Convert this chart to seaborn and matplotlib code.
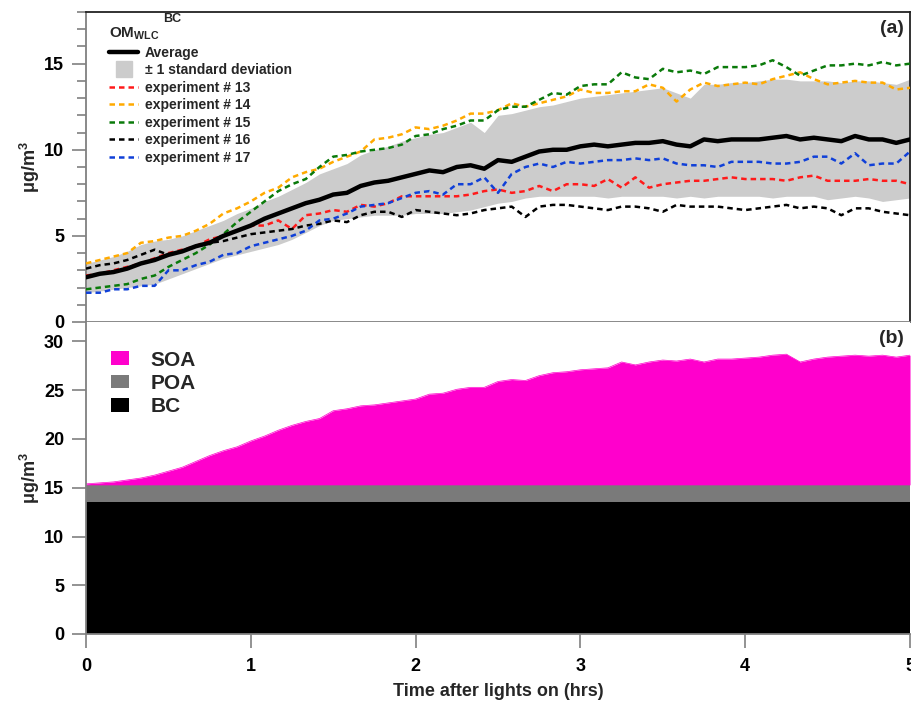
import numpy as np
import pandas as pd
import matplotlib
matplotlib.use("Agg")
import matplotlib.pyplot as plt
from matplotlib.lines import Line2D
from matplotlib.patches import Patch
from matplotlib.ticker import MultipleLocator
import seaborn as sns

# ---------------- data ----------------
time_hrs = [i / 12 for i in range(61)]

average = [2.6, 2.8, 2.9, 3.1, 3.4, 3.6, 3.9, 4.1, 4.4, 4.6, 5.0, 5.3, 5.6, 6.0, 6.3, 6.6,
           6.9, 7.1, 7.4, 7.5, 7.9, 8.1, 8.2, 8.4, 8.6, 8.8, 8.7, 9.0, 9.1, 8.9, 9.4, 9.3,
           9.6, 9.9, 10.0, 10.0, 10.2, 10.3, 10.2, 10.3, 10.4, 10.4, 10.5, 10.3, 10.2, 10.6,
           10.5, 10.6, 10.6, 10.6, 10.7, 10.8, 10.6, 10.7, 10.6, 10.5, 10.8, 10.6, 10.6, 10.4, 10.6]
std_upper = [3.4, 3.6, 3.8, 4.1, 4.5, 4.7, 4.8, 5.0, 5.3, 5.6, 5.9, 6.3, 6.6, 7.0, 7.3, 7.7,
             8.1, 8.6, 8.9, 9.2, 9.7, 10.0, 10.2, 10.5, 10.7, 10.9, 11.0, 11.3, 11.6, 11.0, 12.0,
             12.1, 12.3, 12.5, 12.6, 12.8, 13.0, 13.1, 13.2, 13.3, 13.4, 13.5, 13.6, 13.3, 13.0,
             13.8, 13.8, 13.9, 13.9, 14.0, 14.1, 14.1, 14.0, 14.0, 14.0, 13.9, 14.0, 14.0, 13.9, 13.8, 14.1]
std_lower = [1.7, 1.8, 1.9, 2.0, 2.1, 2.2, 2.5, 2.8, 3.1, 3.4, 3.7, 3.9, 4.1, 4.3, 4.5, 4.8,
             5.2, 5.6, 5.9, 6.0, 6.1, 6.2, 6.2, 6.2, 6.3, 6.3, 6.3, 6.4, 6.5, 6.7, 6.9, 7.0,
             7.2, 7.3, 7.3, 7.3, 7.3, 7.3, 7.2, 7.3, 7.3, 7.3, 7.3, 7.2, 7.3, 7.2, 7.3, 7.3,
             7.3, 7.3, 7.2, 7.3, 7.3, 7.3, 7.1, 7.2, 7.3, 7.2, 7.0, 7.1, 7.2]
exp13 = [2.7, 2.8, 3.0, 3.2, 3.4, 3.7, 4.0, 4.2, 4.4, 4.8, 5.0, 5.3, 5.6, 5.6, 5.9, 5.4,
         6.2, 6.3, 6.5, 6.4, 6.8, 6.7, 6.9, 7.3, 7.3, 7.3, 7.3, 7.3, 7.4, 7.6, 7.7, 7.5,
         7.6, 7.9, 7.6, 8.0, 8.0, 7.9, 8.3, 7.8, 8.4, 7.8, 8.0, 8.1, 8.2, 8.2, 8.3, 8.4,
         8.3, 8.3, 8.3, 8.2, 8.4, 8.5, 8.2, 8.2, 8.2, 8.3, 8.2, 8.2, 8.0]
exp14 = [3.4, 3.6, 3.8, 4.0, 4.6, 4.7, 4.9, 5.0, 5.3, 5.7, 6.3, 6.6, 7.0, 7.5, 7.8, 8.4,
         8.7, 8.9, 9.3, 9.6, 9.9, 10.6, 10.7, 10.9, 11.3, 11.2, 11.4, 11.7, 12.1, 12.1, 12.3,
         12.7, 12.5, 12.7, 12.9, 13.1, 13.5, 13.3, 13.3, 13.4, 13.4, 13.8, 13.6, 12.8, 13.5,
         13.9, 13.7, 13.8, 13.9, 13.8, 14.1, 14.3, 14.5, 14.1, 13.8, 13.9, 14.0, 13.9, 13.9, 13.5, 13.6]
exp15 = [1.9, 2.0, 2.1, 2.2, 2.5, 2.7, 3.2, 3.6, 4.0, 4.5, 5.1, 5.8, 6.4, 7.0, 7.6, 8.0,
         8.3, 9.0, 9.6, 9.7, 9.9, 10.0, 10.1, 10.3, 10.8, 10.9, 11.2, 11.4, 11.7, 11.7, 12.3,
         12.5, 12.5, 12.9, 13.3, 13.2, 13.7, 13.8, 13.8, 14.5, 14.2, 14.1, 14.7, 14.5, 14.6,
         14.4, 14.8, 14.8, 14.8, 14.9, 15.2, 14.8, 14.3, 14.6, 14.9, 14.9, 15.0, 14.9, 15.1, 14.9, 15.0]
exp16 = [3.1, 3.3, 3.4, 3.6, 3.9, 4.2, 3.9, 4.1, 4.4, 4.6, 4.7, 4.9, 5.1, 5.2, 5.3, 5.4,
         5.6, 5.7, 5.9, 5.8, 6.2, 6.4, 6.4, 6.1, 6.5, 6.4, 6.3, 6.2, 6.3, 6.5, 6.6, 6.7,
         6.1, 6.7, 6.8, 6.8, 6.7, 6.6, 6.5, 6.7, 6.7, 6.6, 6.4, 6.8, 6.7, 6.7, 6.7, 6.6,
         6.5, 6.6, 6.7, 6.8, 6.6, 6.7, 6.6, 6.2, 6.6, 6.6, 6.4, 6.3, 6.2]
exp17 = [1.7, 1.7, 1.9, 1.9, 2.1, 2.1, 3.0, 3.0, 3.3, 3.5, 3.9, 4.0, 4.4, 4.6, 4.8, 5.0,
         5.3, 5.9, 6.0, 6.3, 6.7, 6.8, 6.9, 7.2, 7.5, 7.6, 7.4, 8.0, 8.0, 8.4, 7.5, 8.6,
         9.0, 9.2, 9.0, 9.3, 9.2, 9.3, 9.4, 9.4, 9.5, 9.4, 9.5, 9.2, 9.1, 9.1, 9.0, 9.3,
         9.3, 9.3, 9.2, 9.2, 9.3, 9.6, 9.6, 9.2, 9.8, 9.1, 9.2, 9.2, 9.9]

bc_conc = 13.5
poa_conc = 1.8
total_conc = [15.4, 15.5, 15.6, 15.8, 16.0, 16.3, 16.7, 17.1, 17.7, 18.3, 18.8, 19.2, 19.8,
              20.3, 20.9, 21.4, 21.8, 22.1, 22.9, 23.1, 23.4, 23.5, 23.7, 23.9, 24.1, 24.6,
              24.7, 25.1, 25.3, 25.3, 25.9, 26.1, 26.0, 26.5, 26.8, 26.9, 27.1, 27.2, 27.3,
              27.9, 27.6, 27.9, 28.1, 28.0, 28.2, 27.9, 28.2, 28.2, 28.3, 28.4, 28.6, 28.7,
              27.9, 28.2, 28.4, 28.5, 28.6, 28.5, 28.6, 28.4, 28.6]

experiments = {"experiment # 13": exp13, "experiment # 14": exp14, "experiment # 15": exp15,
               "experiment # 16": exp16, "experiment # 17": exp17}
exp_colors = {"experiment # 13": "#ff1a1a", "experiment # 14": "#ffaa00",
              "experiment # 15": "#0a7a0a", "experiment # 16": "#000000",
              "experiment # 17": "#1040d8"}

# ---------------- style ----------------
sns.set_theme(style="ticks")
plt.rcParams["font.family"] = ["Liberation Sans", "DejaVu Sans"]
plt.rcParams["font.weight"] = "bold"
plt.rcParams["mathtext.fontset"] = "custom"
plt.rcParams["mathtext.rm"] = "Liberation Sans:bold"
plt.rcParams["mathtext.bf"] = "Liberation Sans:bold"
plt.rcParams["mathtext.it"] = "Liberation Sans:bold"

fig = plt.figure(figsize=(9.12, 7.11), dpi=100)
L, R = 86 / 912, 910 / 912
ax1 = fig.add_axes([L, 1 - 322 / 711, R - L, (322 - 12) / 711])
ax2 = fig.add_axes([L, 1 - 634 / 711, R - L, (634 - 322) / 711])

spine_gray = "#808080"
tick_kw = dict(labelsize=13, colors=spine_gray, labelcolor="black", width=1.2)

# ---------------- panel (a) ----------------
t = np.array(time_hrs)
ax1.fill_between(t, std_lower, std_upper, color="#cccccc", lw=0, zorder=1)
sns.lineplot(x=time_hrs, y=average, ax=ax1, color="black", lw=3.2, zorder=4)
for name, vals in experiments.items():
    sns.lineplot(x=time_hrs, y=vals, ax=ax1, color=exp_colors[name], lw=1.8,
                 zorder=3, dashes=False)
for ln in ax1.lines[1:]:
    ln.set_dashes((2.2, 1.6))

ax1.set_xlim(0, 5)
ax1.set_ylim(0, 18)
ax1.yaxis.set_major_locator(MultipleLocator(5))
ax1.yaxis.set_minor_locator(MultipleLocator(1))
ax1.tick_params(axis="y", which="major", length=10, pad=5.8, **tick_kw)
ax1.tick_params(axis="y", which="minor", length=6.5, width=1.2, colors=spine_gray)
ax1.tick_params(axis="x", which="both", bottom=False, labelbottom=False)
for s in ["left", "bottom"]:
    ax1.spines[s].set_color(spine_gray)
for s in ["top", "right"]:
    ax1.spines[s].set_color("#222222")
for s in ax1.spines.values():
    s.set_linewidth(1.3)
for lab in ax1.get_yticklabels():
    lab.set_fontweight("bold")
ax1.set_ylabel(r"μg/m$^{3}$", fontsize=13, fontweight="bold")
ax1.text(0.992, 0.975, "(a)", transform=ax1.transAxes, ha="right", va="top",
         fontsize=14, fontweight="bold")

handles = [Line2D([], [], color="black", lw=3.2),
           Line2D([], [], color="#cccccc", marker="s", markersize=11, linestyle="none")]
labels = ["Average", "± 1 standard deviation"]
for name in experiments:
    handles.append(Line2D([], [], color=exp_colors[name], lw=1.8, dashes=(2.2, 1.6)))
    labels.append(name)
leg1 = ax1.legend(handles, labels, loc="upper left", bbox_to_anchor=(0.018, 0.982),
                  frameon=False, prop={"size": 10, "weight": "bold"},
                  title=r"$\mathrm{OM_{WLC}}$",
                  title_fontsize=11, alignment="left", handlelength=2.1,
                  handleheight=0.7, labelspacing=0.25, handletextpad=0.45,
                  borderpad=0.3, borderaxespad=0.3)
leg1._legend_handle_box.set_offset(lambda w, h, x, y, r: (x + 12, y))
fig.text(172 / 912, 1 - 19 / 711, "BC", ha="center", va="center",
         fontsize=9, fontweight="bold")

# ---------------- panel (b) ----------------
bc_line = [bc_conc] * len(time_hrs)
poa_line = [bc_conc + poa_conc] * len(time_hrs)
ax2.fill_between(t, 0, bc_line, color="black", lw=0)
ax2.fill_between(t, bc_line, poa_line, color="#7a7a7a", lw=0)
ax2.fill_between(t, poa_line, total_conc, color="#ff00cc", lw=0)
sns.lineplot(x=time_hrs, y=total_conc, ax=ax2, color="#ff00cc", lw=0.5)

ax2.set_xlim(0, 5)
ax2.set_ylim(0, 32)
ax2.yaxis.set_major_locator(MultipleLocator(5))
ax2.xaxis.set_major_locator(MultipleLocator(1))
ax2.tick_params(axis="both", which="major", length=10, **tick_kw)
ax2.tick_params(axis="y", pad=5.8)
ax2.tick_params(axis="x", pad=7)
for s in ["left", "bottom"]:
    ax2.spines[s].set_color(spine_gray)
    ax2.spines[s].set_linewidth(1.3)
ax2.spines["top"].set_visible(False)
ax2.spines["right"].set_visible(False)
for lab in ax2.get_yticklabels() + ax2.get_xticklabels():
    lab.set_fontweight("bold")
ax2.set_ylabel(r"μg/m$^{3}$", fontsize=13, fontweight="bold")
ax2.set_xlabel("Time after lights on (hrs)", fontsize=13, fontweight="bold", labelpad=6)
ax2.text(0.992, 0.975, "(b)", transform=ax2.transAxes, ha="right", va="top",
         fontsize=14, fontweight="bold")

h2 = [Patch(facecolor="#ff00cc", edgecolor="none"),
      Patch(facecolor="#7a7a7a", edgecolor="none"),
      Patch(facecolor="black", edgecolor="none")]
ax2.legend(h2, ["SOA", "POA", "BC"], loc="upper left", bbox_to_anchor=(0.005, 0.975),
           frameon=False, prop={"size": 15, "weight": "bold"}, handlelength=0.85,
           handleheight=0.65, labelspacing=0.2, handletextpad=1.05,
           borderpad=0.4, borderaxespad=0.6)

ax1.yaxis.set_label_coords(-0.053, 0.5)
ax2.yaxis.set_label_coords(-0.053, 0.5)

fig.savefig("out.png", dpi=100)
